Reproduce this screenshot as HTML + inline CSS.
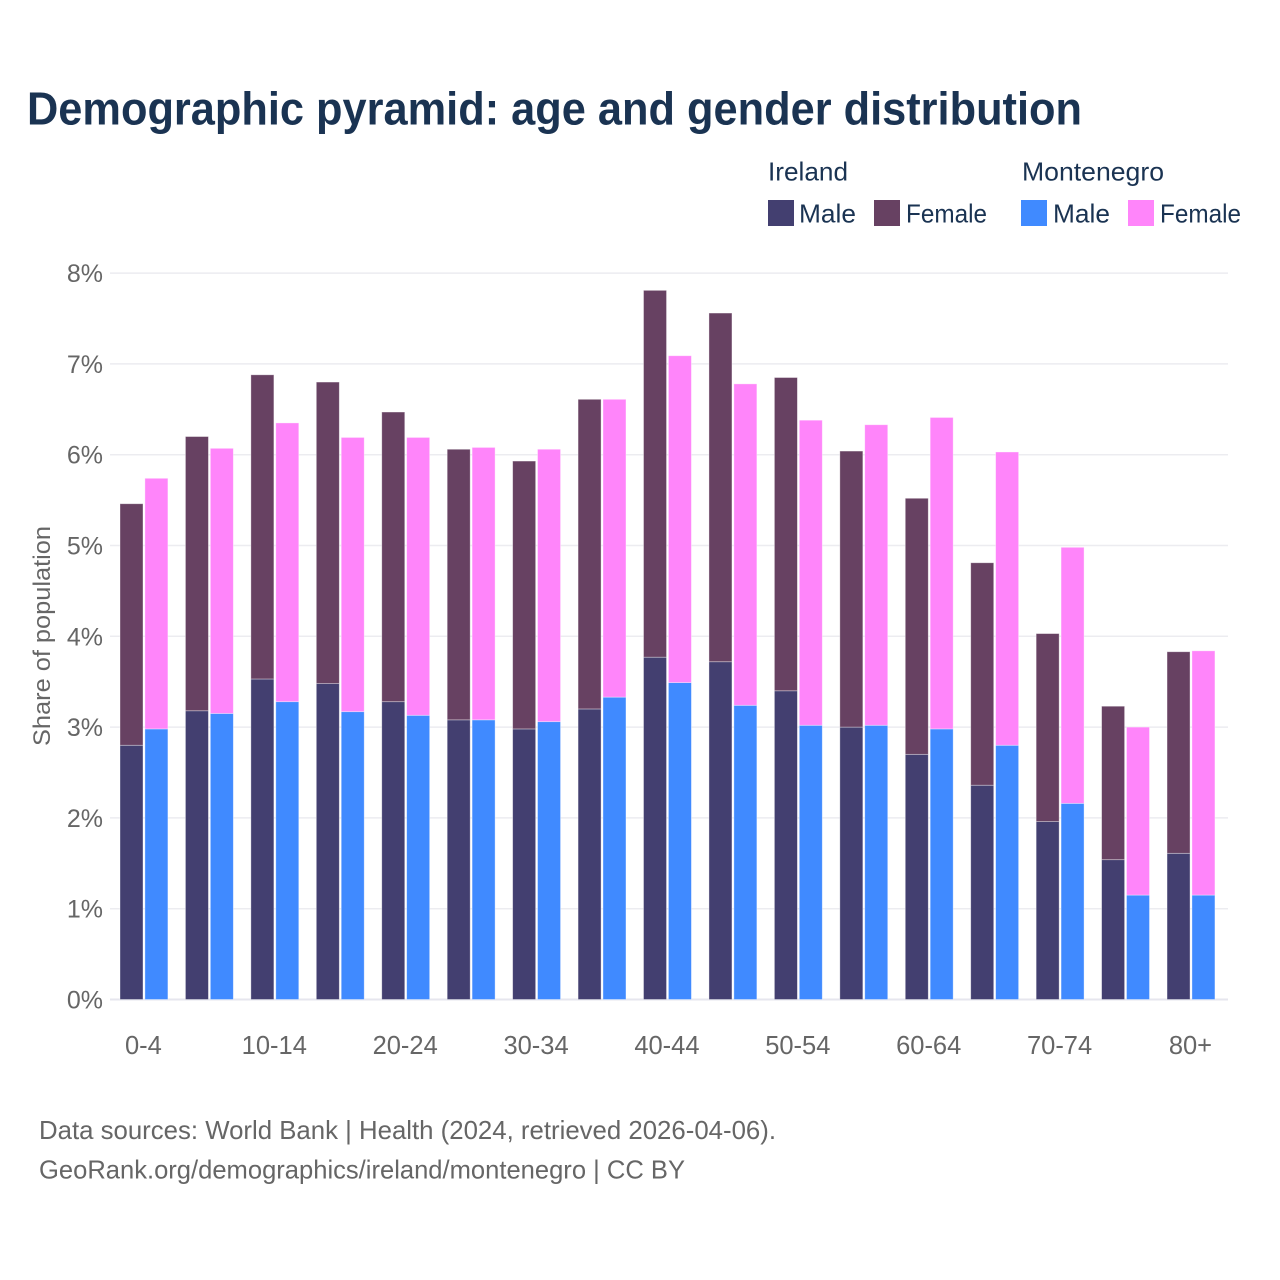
<!DOCTYPE html>
<html lang="en">
<head>
<meta charset="utf-8">
<title>Demographic pyramid: age and gender distribution</title>
<style>
html,body{margin:0;padding:0;background:#fff;}
svg{display:block;font-family:"Liberation Sans",sans-serif;}
</style>
</head>
<body>
<svg id="chart" xmlns="http://www.w3.org/2000/svg" width="1280" height="1280" viewBox="0 0 1280 1280">
  <rect x="0" y="0" width="1280" height="1280" fill="#ffffff"/>
  <text x="27" y="124.5" font-size="46" font-weight="700" fill="#1a3352" textLength="1055" lengthAdjust="spacingAndGlyphs">Demographic pyramid: age and gender distribution</text>

  <g font-size="26" fill="#1a3352">
    <text x="768" y="180.5" textLength="80" lengthAdjust="spacingAndGlyphs">Ireland</text>
    <text x="1022" y="180.5" textLength="142" lengthAdjust="spacingAndGlyphs">Montenegro</text>
    <rect x="768" y="200" width="26" height="26" fill="#433f70"/>
    <text x="799" y="222.5" textLength="57" lengthAdjust="spacingAndGlyphs">Male</text>
    <rect x="874" y="200" width="26" height="26" fill="#674162"/>
    <text x="906" y="222.5" textLength="81" lengthAdjust="spacingAndGlyphs">Female</text>
    <rect x="1021" y="200" width="26" height="26" fill="#408aff"/>
    <text x="1053" y="222.5" textLength="57" lengthAdjust="spacingAndGlyphs">Male</text>
    <rect x="1128" y="200" width="26" height="26" fill="#ff85fa"/>
    <text x="1160" y="222.5" textLength="81" lengthAdjust="spacingAndGlyphs">Female</text>
  </g>

  <g id="grid"></g>
  <g id="bars"></g>
  <g id="yticks"></g>
  <g id="xticks"></g>

  <text transform="translate(50,636) rotate(-90)" text-anchor="middle" font-size="24" fill="#666666" textLength="220" lengthAdjust="spacingAndGlyphs">Share of population</text>

  <text x="39" y="1139" font-size="26" fill="#666666" textLength="737" lengthAdjust="spacingAndGlyphs">Data sources: World Bank | Health (2024, retrieved 2026-04-06).</text>
  <text x="39" y="1178.5" font-size="26" fill="#666666" textLength="646" lengthAdjust="spacingAndGlyphs">GeoRank.org/demographics/ireland/montenegro | CC BY</text>
</svg>
<script>
const categories = ["0-4","5-9","10-14","15-19","20-24","25-29","30-34","35-39","40-44","45-49","50-54","55-59","60-64","65-69","70-74","75-79","80+"];
const xTickLabels = ["0-4","10-14","20-24","30-34","40-44","50-54","60-64","70-74","80+"];
const yTickValues = [0,1,2,3,4,5,6,7,8];
const irelandMale = [2.80,3.18,3.53,3.48,3.28,3.08,2.98,3.20,3.77,3.72,3.40,3.00,2.70,2.36,1.96,1.54,1.61];
const irelandFemale = [2.66,3.02,3.35,3.32,3.19,2.98,2.95,3.41,4.04,3.84,3.45,3.04,2.82,2.45,2.07,1.69,2.22];
const montenegroMale = [2.98,3.15,3.28,3.17,3.13,3.08,3.06,3.33,3.49,3.24,3.02,3.02,2.98,2.80,2.16,1.15,1.15];
const montenegroFemale = [2.76,2.92,3.07,3.02,3.06,3.00,3.00,3.28,3.60,3.54,3.36,3.31,3.43,3.23,2.82,1.85,2.69];

const NS = "http://www.w3.org/2000/svg";
const yBase = 999.5, yPerUnit = 90.8;
const xStart = 111.2, band = 65.44, barWidth = 23, leftOffset = 8.8, rightOffset = 33.7;
function yScale(v){ return yBase - v * yPerUnit; }
function xBand(i){ return xStart + band * i; }

const grid = document.getElementById("grid");
const yticks = document.getElementById("yticks");
const xticks = document.getElementById("xticks");
const bars = document.getElementById("bars");

yTickValues.forEach(function(v){
  const line = document.createElementNS(NS, "line");
  
  
  line.setAttribute("x1", 110);
  line.setAttribute("x2", 1228);
  line.setAttribute("y1", yScale(v));
  line.setAttribute("y2", yScale(v));
  line.setAttribute("stroke", v === 0 ? "#e6e6ee" : "#ececf0");
  line.setAttribute("stroke-width", v === 0 ? 2 : 1.5);
  grid.appendChild(line);

  const t = document.createElementNS(NS, "text");
  
  
  t.setAttribute("x", 103);
  t.setAttribute("y", yScale(v) + 9);
  t.setAttribute("text-anchor", "end");
  t.setAttribute("font-size", 25);
  t.setAttribute("fill", "#666666");
  t.textContent = v + "%";
  yticks.appendChild(t);
});

function drawBar(i, side, value, base, fill, name){
  const r = document.createElementNS(NS, "rect");
  
  
  const x = xBand(i) + (side === 0 ? leftOffset : rightOffset);
  r.setAttribute("x", x);
  r.setAttribute("width", barWidth);
  r.setAttribute("y", yScale(base + value));
  r.setAttribute("height", value * yPerUnit);
  r.setAttribute("fill", fill);
  r.setAttribute("stroke", "#ffffff");
  r.setAttribute("stroke-opacity", "0.45");
  r.setAttribute("stroke-width", "0.8");
  bars.appendChild(r);
}

categories.forEach(function(c, i){
  drawBar(i, 0, irelandMale[i], 0, "#433f70", "bar-ireland-male-" + c);
  drawBar(i, 0, irelandFemale[i], irelandMale[i], "#674162", "bar-ireland-female-" + c);
  drawBar(i, 1, montenegroMale[i], 0, "#408aff", "bar-montenegro-male-" + c);
  drawBar(i, 1, montenegroFemale[i], montenegroMale[i], "#ff85fa", "bar-montenegro-female-" + c);
  if (xTickLabels.indexOf(c) !== -1) {
    const t = document.createElementNS(NS, "text");
    
    
    t.setAttribute("x", xBand(i) + band / 2 - 0.5);
    t.setAttribute("y", 1054);
    t.setAttribute("text-anchor", "middle");
    t.setAttribute("font-size", 25.5);
    t.setAttribute("fill", "#666666");
    t.textContent = c;
    xticks.appendChild(t);
  }
});
</script>
</body>
</html>
